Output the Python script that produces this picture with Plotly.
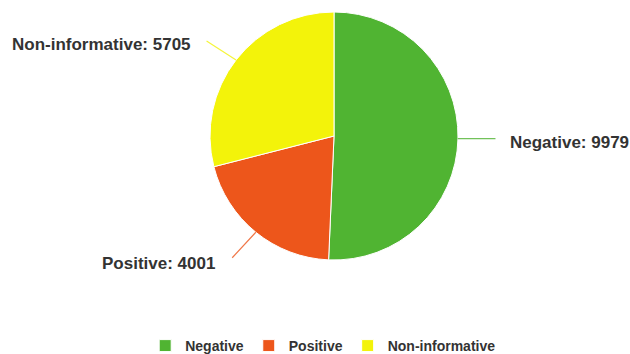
import math
import plotly.graph_objects as go

categories = ["Negative", "Positive", "Non-informative"]
values = [9979, 4001, 5705]
colors = ["#50B432", "#ED561B", "#F3F30A"]

W, H = 630, 354
cx, cy, r = 334, 136, 124  # pie centre / radius in px (layout)

fig = go.Figure(go.Pie(
    labels=categories, values=values, sort=False, direction="clockwise",
    rotation=0, textinfo="none", hoverinfo="label+value",
    marker=dict(colors=colors, line=dict(color="white", width=1)),
    domain=dict(x=[(cx - r) / W, (cx + r) / W], y=[1 - (cy + r) / H, 1 - (cy - r) / H]),
))

# style offsets per slice: connector tail (ax, ay) and text shift (xs, ys, anchor)
styles = [
    dict(ax=39, ay=0, xs=50, ys=-4, xa="left"),
    dict(ax=-25, ay=27, xs=-39, ys=-31, xa="right"),
    dict(ax=-31, ay=-20, xs=-43, ys=15, xa="right"),
]
total = sum(values)
cum = 0
for cat, v, col, st in zip(categories, values, colors, styles):
    mid = (cum + v / 2) / total * 2 * math.pi
    cum += v
    px = cx + r * math.sin(mid)
    py = cy - r * math.cos(mid)
    x, y = px / W, 1 - py / H
    fig.add_annotation(x=x, y=y, xref="paper", yref="paper", text="",
                       showarrow=True, arrowhead=0, arrowwidth=1.2,
                       arrowcolor=col, ax=st["ax"], ay=st["ay"], opacity=0.8)
    fig.add_annotation(
        x=x, y=y, xref="paper", yref="paper", showarrow=False,
        text=f"{cat}: {v}", xshift=st["xs"], yshift=st["ys"],
        xanchor=st["xa"], yanchor="middle",
        font=dict(family="Liberation Sans, Arial", size=17, color="#333333", weight="bold"),
    )

fig.update_layout(
    width=W, height=H, margin=dict(l=0, r=0, t=0, b=0, autoexpand=False),
    paper_bgcolor="white", plot_bgcolor="white",
    showlegend=True,
    legend=dict(orientation="h", x=0.513, xanchor="center", y=1 - 346 / H, yanchor="middle",
                font=dict(family="Liberation Sans, Arial", size=14, color="#333333", weight="bold"),
                itemwidth=30, itemclick=False),
)
fig.write_html("out.html", config={"displayModeBar": False},
               post_script="document.body.style.margin='0';")
